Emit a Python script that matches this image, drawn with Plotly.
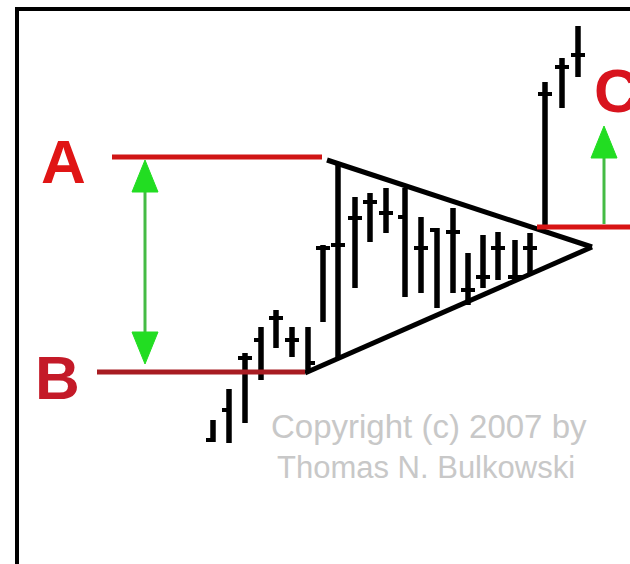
import plotly.graph_objects as go

# ---- data (screen-like units: x to the right, y downward) ----
bar_x = [213, 229, 245, 261, 276, 292, 308, 323, 338, 355, 370, 386,
         405, 421, 437, 453, 468, 483, 498, 515, 530, 545, 562, 578]
bar_high = [420, 389, 353, 327, 310, 327, 327, 245, 163, 197, 193, 188,
            188, 217, 228, 208, 253, 235, 232, 240, 233, 82, 58, 26]
bar_low = [442, 443, 423, 380, 348, 357, 372, 322, 360, 288, 242, 233,
           297, 293, 308, 293, 305, 288, 280, 282, 275, 225, 108, 77]
bar_tick = [440, 410, 358, 340, 318, 340, 363, 248, 245, 218, 202, 213,
            217, 248, 230, 232, 290, 277, 248, 277, 248, 94, 67, 55]
bar_side = ["L", "L", "B", "L", "B", "B", "R", "B", "B", "B", "B", "B",
            "L", "B", "L", "B", "B", "B", "B", "B", "B", "B", "B", "B"]

# triangle (upper-left start, apex, lower-left start)
tri_upper_x = [327, 592]
tri_upper_y = [160, 247]
tri_lower_x = [305, 592]
tri_lower_y = [373, 247]

# horizontal levels
level_names = ["A", "B", "C"]
level_y = [157, 372, 227]
level_x0 = [112, 97, 537]
level_x1 = [322, 305, 630]
level_colors = ["#d01515", "#a81c22", "#d81414"]
label_x = [63, 57, 616]
label_y = [161, 377, 90]
label_colors = ["#e01515", "#c41a28", "#d8141e"]

# arrows
arrow_ab_x = 145
arrow_c_x = 604
arrow_c_top = 126

copyright_lines = ["Copyright (c) 2007 by", "Thomas N. Bulkowski"]
copyright_x = [429, 426]
copyright_y = [426, 467]
copyright_sizes = [33, 31]

fig = go.Figure()

# bars
vx, vy, tx, ty = [], [], [], []
TICK = 7
for x, h, l, t, s in zip(bar_x, bar_high, bar_low, bar_tick, bar_side):
    vx += [x, x, None]
    vy += [h, l, None]
    left = x - TICK if s in ("L", "B") else x
    right = x + TICK if s in ("R", "B") else x
    tx += [left, right, None]
    ty += [t, t, None]
fig.add_trace(go.Scatter(x=vx, y=vy, mode="lines",
                         line=dict(color="black", width=5.5), hoverinfo="skip"))
fig.add_trace(go.Scatter(x=tx, y=ty, mode="lines",
                         line=dict(color="black", width=4), hoverinfo="skip"))

# triangle
fig.add_trace(go.Scatter(x=tri_upper_x, y=tri_upper_y, mode="lines",
                         line=dict(color="black", width=5), hoverinfo="skip"))
fig.add_trace(go.Scatter(x=tri_lower_x, y=tri_lower_y, mode="lines",
                         line=dict(color="black", width=5), hoverinfo="skip"))

# levels
for y, x0, x1, c in zip(level_y, level_x0, level_x1, level_colors):
    fig.add_trace(go.Scatter(x=[x0, x1], y=[y, y], mode="lines",
                             line=dict(color=c, width=5), hoverinfo="skip"))

GREEN_SHAFT = "#44bb44"
GREEN_HEAD = "#22dd22"
HEAD_LEN = 32
HEAD_HALF = 13


def arrow_head(x, tip, direction):
    base = tip + direction * HEAD_LEN
    fig.add_trace(go.Scatter(x=[x, x - HEAD_HALF, x + HEAD_HALF, x],
                             y=[tip, base, base, tip], mode="lines",
                             fill="toself", fillcolor=GREEN_HEAD,
                             line=dict(color=GREEN_HEAD, width=1),
                             hoverinfo="skip"))


# A-B double arrow
ab_top = level_y[0] + 3
ab_bot = level_y[1] - 8
fig.add_trace(go.Scatter(x=[arrow_ab_x, arrow_ab_x], y=[ab_top + 20, ab_bot - 20],
                         mode="lines", line=dict(color=GREEN_SHAFT, width=3),
                         hoverinfo="skip"))
arrow_head(arrow_ab_x, ab_top, 1)
arrow_head(arrow_ab_x, ab_bot, -1)

# C arrow
fig.add_trace(go.Scatter(x=[arrow_c_x, arrow_c_x], y=[level_y[2] - 3, arrow_c_top + 20],
                         mode="lines", line=dict(color=GREEN_SHAFT, width=3),
                         hoverinfo="skip"))
arrow_head(arrow_c_x, arrow_c_top, 1)

# labels
for n, x, y, c in zip(level_names, label_x, label_y, label_colors):
    fig.add_annotation(x=x, y=y, text="<b>%s</b>" % n, showarrow=False,
                       font=dict(family="Liberation Sans, Arial", size=62, color=c),
                       xanchor="center", yanchor="middle")

for t, x, y, sz in zip(copyright_lines, copyright_x, copyright_y, copyright_sizes):
    fig.add_annotation(x=x, y=y, text=t, showarrow=False,
                       font=dict(family="Liberation Sans, Arial", size=sz, color="#c8c8c8"),
                       xanchor="center", yanchor="middle")

# frame
fig.add_shape(type="rect", x0=17, y0=9, x1=660, y1=600,
              line=dict(color="black", width=4), layer="above")

fig.update_layout(
    width=630, height=564, margin=dict(l=0, r=0, t=0, b=0),
    paper_bgcolor="white", plot_bgcolor="white", showlegend=False,
    xaxis=dict(range=[0, 630], visible=False, fixedrange=True),
    yaxis=dict(range=[564, 0], visible=False, fixedrange=True),
)

fig.write_html("out.html")
